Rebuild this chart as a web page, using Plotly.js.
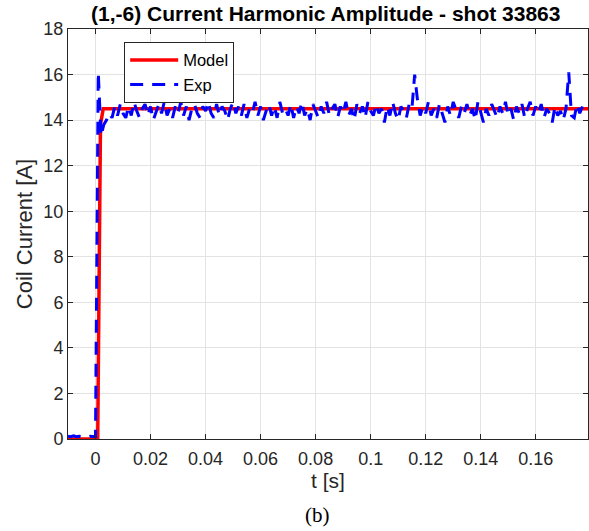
<!DOCTYPE html>
<html>
<head>
<meta charset="utf-8">
<script src="https://cdn.plot.ly/plotly-3.0.1.min.js"></script>
<style>html,body{margin:0;padding:0;background:#fff;}#chart{width:589px;height:531px;}</style>
</head>
<body>
<div id="chart"></div>
<script>
// Model trace (time [s], current [A])
const modelT = [-0.01, 0.0008, 0.0018, 0.0028, 0.179];
const modelI = [0, 0, 13.8, 14.5, 14.5];

// Experimental trace: sampled every 1 ms starting at t = -0.010 s
const expStart = -0.010;
const expStep = 0.001;
const expI = [
  0.12, 0.10, 0.14, 0.10, 0.12, 0.10, 0.13, 0.10, 0.12, 0.10,
  0.10, 16.1,
  13.3, 13.8, 14.0, 14.3, 14.1, 14.6, 14.2, 14.7, 14.3, 14.1,
  14.6, 14.2, 14.8, 14.4, 14.1, 14.5, 14.7, 14.2, 14.6, 14.0,
  14.4, 14.7, 14.3, 14.8, 14.2, 14.5, 14.1, 14.6, 14.3, 14.8,
  14.2, 14.6, 14.0, 14.5, 14.7, 14.3, 14.1, 14.6, 14.4, 14.8,
  14.3, 14.1, 14.7, 14.2, 14.6, 14.4, 14.0, 14.5, 14.8, 14.3,
  14.6, 14.2, 14.7, 14.1, 14.5, 14.3, 14.8, 14.2, 14.6, 14.0,
  14.4, 14.7, 14.2, 14.6, 14.1, 14.8, 14.3, 14.5, 14.2, 14.7,
  14.1, 14.6, 14.3, 14.8, 14.2, 14.5, 14.0, 14.7, 14.4, 14.1,
  14.6, 14.3, 14.8, 14.2, 14.5, 14.7, 14.1, 14.6, 14.3, 14.8,
  14.2, 14.5, 14.0, 14.7, 14.3, 14.6, 14.1, 14.8, 14.4, 14.2,
  14.7, 14.3, 14.5, 13.9, 14.6, 14.2, 14.8, 14.3, 14.0, 14.6,
  14.4, 14.1, 14.7, 14.5, 16.0, 14.9, 14.2, 14.6, 14.3, 14.8,
  14.2, 14.5, 14.1, 14.7, 14.3, 13.9, 14.6, 14.2, 14.8, 14.4,
  14.1, 14.6, 14.3, 14.7, 14.2, 14.5, 14.0, 14.8, 14.3, 13.9,
  14.5, 14.2, 14.7, 14.4, 14.1, 14.6, 14.3, 14.8, 14.2, 14.5,
  14.0, 14.6, 14.3, 14.7, 14.1, 14.5, 14.8, 14.2, 14.6, 14.3,
  14.7, 14.1, 14.5, 14.3, 13.9, 14.6, 14.2, 14.4, 14.0, 14.5,
  16.1, 14.2, 14.1, 14.7, 14.3, 14.6, 14.4, 14.5
];

const xTickVals = [0, 0.02, 0.04, 0.06, 0.08, 0.1, 0.12, 0.14, 0.16];
const xTickText = ['0', '0.02', '0.04', '0.06', '0.08', '0.1', '0.12', '0.14', '0.16'];
const yTickVals = [0, 2, 4, 6, 8, 10, 12, 14, 16, 18];

const axisColor = '#262626';
const gridColor = '#e3e3e3';
const fontFam = 'Liberation Sans, Arial, sans-serif';

const traces = [
  {
    x: modelT, y: modelI, type: 'scatter', mode: 'lines', name: 'Model',
    line: {color: '#ff0000', width: 3.5}
  },
  {
    x0: expStart, dx: expStep, y: expI, type: 'scatter', mode: 'lines', name: 'Exp',
    line: {color: '#0000ff', width: 3, dash: '13px,9px'}
  }
];

const layout = {
  width: 589, height: 531,
  margin: {l: 68, r: 1, t: 29, b: 92},
  paper_bgcolor: '#ffffff', plot_bgcolor: '#ffffff',
  font: {family: fontFam, color: axisColor},
  showlegend: true,
  title: {
    text: '<b>(1,-6) Current Harmonic Amplitude - shot 33863</b>',
    font: {family: fontFam, size: 21, color: '#000000'},
    x: 0.553, xanchor: 'center', y: 0.974, yanchor: 'middle'
  },
  xaxis: {
    range: [-0.01, 0.179],
    tickvals: xTickVals, ticktext: xTickText,
    ticks: 'inside', ticklen: 5, tickcolor: axisColor,
    showline: true, linecolor: axisColor, linewidth: 1, mirror: 'ticks',
    showgrid: true, gridcolor: gridColor, gridwidth: 1,
    zeroline: false,
    tickfont: {family: fontFam, size: 18, color: axisColor},
    ticklabelstandoff: 3,
    title: {text: 't [s]', font: {family: fontFam, size: 21, color: axisColor}, standoff: 2}
  },
  yaxis: {
    range: [0, 18],
    tickvals: yTickVals,
    ticks: 'inside', ticklen: 5, tickcolor: axisColor,
    showline: true, linecolor: axisColor, linewidth: 1, mirror: 'ticks',
    showgrid: true, gridcolor: gridColor, gridwidth: 1,
    zeroline: false,
    tickfont: {family: fontFam, size: 18, color: axisColor},
    title: {text: 'Coil Current [A]', font: {family: fontFam, size: 22, color: axisColor}, standoff: 4}
  },
  legend: {
    x: 0.108, y: 0.969, xanchor: 'left', yanchor: 'top',
    bgcolor: '#ffffff', bordercolor: axisColor, borderwidth: 1,
    font: {family: fontFam, size: 16.5, color: '#000000'},
    itemwidth: 48, tracegroupgap: 0
  },
  annotations: [{
    text: '(b)', xref: 'paper', yref: 'paper', x: 0.479, y: -0.185,
    xanchor: 'center', yanchor: 'middle', showarrow: false,
    font: {family: 'Liberation Serif, Times New Roman, serif', size: 21, color: '#000000'}
  }]
};

Plotly.newPlot('chart', traces, layout, {displayModeBar: false, staticPlot: true});
</script>
</body>
</html>
